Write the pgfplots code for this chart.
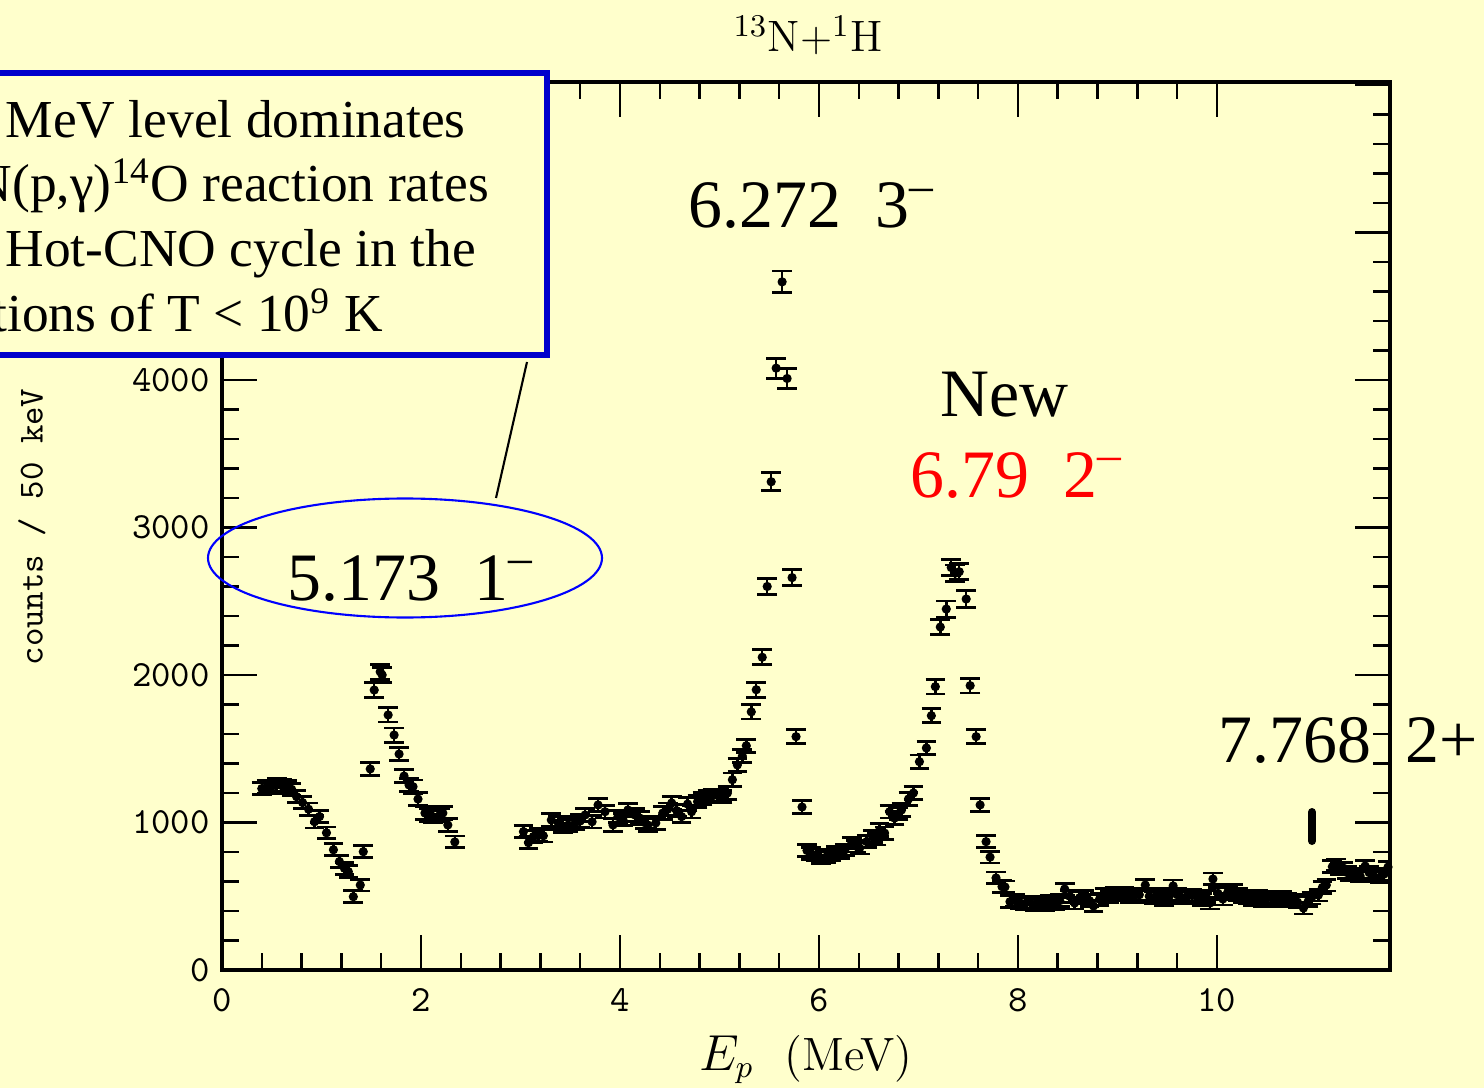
\documentclass[border=0pt]{standalone}
\usepackage{pgfplots}
\pgfplotsset{compat=1.18}
\usepackage{pgfplotstable}
\usepackage{fontspec}
\newfontfamily\tnr{Liberation Serif}
\definecolor{bgyellow}{RGB}{255,255,204}
\definecolor{boxblue}{RGB}{0,0,204}

\pgfplotstableread{
x y e
0.40 1230 42
0.45 1240 42
0.50 1245 42
0.55 1255 42
0.60 1250 42
0.65 1240 42
0.70 1225 42
0.75 1175 42
0.81 1135 42
0.87 1090 42
0.93 1005 42
0.98 1040 42
1.05 930 40
1.12 815 40
1.18 735 40
1.23 690 40
1.27 667 40
1.32 497 40
1.39 576 40
1.42 802 40
1.49 1363 45
1.53 1898 50
1.59 2022 50
1.61 2000 50
1.67 1729 48
1.73 1593 48
1.78 1464 45
1.83 1315 45
1.88 1254 45
1.92 1243 45
1.97 1159 45
2.04 1064 42
2.08 1050 42
2.12 1040 42
2.19 1051 42
2.22 1064 42
2.27 983 42
2.34 868 40
3.03 938 42
3.08 863 40
3.13 905 42
3.18 915 42
3.23 910 42
3.31 1017 42
3.38 997 42
3.43 975 42
3.48 983 42
3.55 997 42
3.60 1010 42
3.65 1051 42
3.72 1005 42
3.78 1119 42
3.85 1073 42
3.93 983 42
3.98 1040 42
4.03 1020 42
4.08 1085 42
4.15 1051 42
4.20 1030 42
4.25 999 42
4.28 983 42
4.36 997 42
4.43 1064 42
4.48 1090 42
4.52 1132 42
4.57 1080 42
4.62 1040 42
4.68 1125 42
4.72 1073 42
4.78 1141 42
4.83 1160 42
4.88 1175 42
4.93 1180 42
4.98 1185 42
5.03 1175 42
5.08 1200 42
5.13 1290 45
5.18 1390 45
5.23 1450 45
5.27 1520 45
5.32 1750 48
5.37 1900 50
5.43 2120 50
5.48 2600 55
5.52 3310 60
5.57 4080 68
5.63 4665 74
5.68 4010 68
5.73 2660 55
5.77 1582 48
5.83 1105 45
5.88 810 40
5.92 790 40
5.97 780 40
6.02 760 40
6.07 765 40
6.12 780 40
6.17 800 40
6.21 795 40
6.26 814 40
6.33 861 40
6.37 840 40
6.41 827 40
6.48 870 40
6.54 904 42
6.58 890 42
6.61 949 42
6.66 928 42
6.71 1073 42
6.76 1030 42
6.80 1060 42
6.83 1085 42
6.90 1159 45
6.95 1200 45
7.01 1412 45
7.08 1505 45
7.13 1724 48
7.17 1921 50
7.22 2325 52
7.28 2447 55
7.33 2728 55
7.37 2690 55
7.41 2700 55
7.48 2515 55
7.52 1928 50
7.58 1582 48
7.62 1119 45
7.68 870 40
7.72 765 40
7.78 624 40
7.84 565 40
7.87 563 40
7.92 463 40
7.97 470 40
8.02 455 40
8.07 450 40
8.12 460 40
8.17 445 40
8.22 455 40
8.27 440 40
8.32 465 40
8.37 450 40
8.42 470 40
8.47 549 40
8.52 500 40
8.57 454 40
8.62 490 40
8.67 500 40
8.72 470 40
8.76 434 40
8.82 480 40
8.87 510 40
8.92 500 40
8.97 520 40
9.02 510 40
9.07 520 40
9.12 500 40
9.17 505 40
9.22 510 40
9.28 576 40
9.32 500 40
9.37 490 40
9.42 510 40
9.47 480 40
9.52 500 40
9.56 570 40
9.60 510 40
9.65 490 40
9.70 500 40
9.75 505 40
9.80 495 40
9.85 480 40
9.89 500 40
9.93 454 40
9.96 617 40
10.01 520 40
10.06 481 40
10.11 530 40
10.16 542 40
10.21 510 40
10.26 500 40
10.31 490 40
10.36 480 40
10.41 500 40
10.46 470 40
10.51 490 40
10.56 485 40
10.61 470 40
10.66 490 40
10.71 480 40
10.76 470 40
10.81 460 40
10.87 420 40
10.92 470 40
10.95 488 40
11.02 508 40
11.06 560 40
11.10 576 40
11.16 700 40
11.20 712 40
11.24 690 40
11.27 691 40
11.31 660 40
11.34 644 40
11.39 650 40
11.44 637 40
11.49 705 40
11.53 660 40
11.57 644 40
11.64 630 40
11.68 650 40
11.72 698 40
}\spectrum

\begin{document}
\begin{tikzpicture}
\useasboundingbox (-22.2mm,-11.8mm) rectangle (126.2mm,97mm);
\fill[bgyellow] (-22.2mm,-11.8mm) rectangle (126.2mm,97mm);
\begin{axis}[
  at={(0,0)}, anchor=south west,
  scale only axis, width=116.8mm, height=88.8mm,
  xmin=0, xmax=11.74, ymin=0, ymax=6020,
  xtick={0,2,...,10}, ytick={0,1000,...,6000},
  minor x tick num=4, minor y tick num=4,
  tick align=inside, major tick length=3.5mm, minor tick length=1.7mm,
  axis line style={line width=0.9pt},
  every tick/.style={line width=0.7pt, black},
  tick label style={font=\fontsize{10.5}{12}\selectfont\ttfamily},
  /pgf/number format/assume math mode=true,
  /pgf/number format/1000 sep={},
  xticklabel style={yshift=-0.6mm},
]
\addplot[only marks, mark=*, mark size=1.1pt, black,
  error bars/.cd, y dir=both, y explicit,
  error bar style={line width=0.7pt, black},
  error mark options={rotate=90, line width=0.8pt, mark size=2.8pt, black}]
  table[x=x, y=y, y error=e] {\spectrum};
\end{axis}
% title and axis labels
\node[anchor=base, font=\fontsize{12.5}{14}\selectfont] at (58.6mm,91.8mm) {$^{13}\mathrm{N}{+}^{1}\mathrm{H}$};
\node[anchor=base, font=\fontsize{13.3}{15}\selectfont] at (58.4mm,-10.0mm) {$E_{p}$\ \ (MeV)};
\node[rotate=90, font=\fontsize{10}{12}\selectfont\ttfamily] at (-19.0mm,44.3mm) {counts / 50 keV};
% annotations
\begin{scope}[font=\tnr\fontsize{19.3}{22}\selectfont]
\node[anchor=base west, inner sep=0pt] at (46.6mm,74.2mm) {6.272\ \ 3\textsuperscript{\textendash}};
\node[anchor=base west, inner sep=0pt] at (71.8mm,55.3mm) {New};
\node[anchor=base west, inner sep=0pt, text=red] at (68.8mm,47.3mm) {6.79\ \ 2\textsuperscript{\textendash}};
\node[anchor=base west, inner sep=0pt] at (6.5mm,37.0mm) {5.173\ \ 1\textsuperscript{\textendash}};
\node[anchor=base west, inner sep=0pt] at (99.6mm,20.8mm) {7.768\ \ 2+};
\end{scope}
\draw[line width=0.8mm, line cap=round] (109.0mm,15.8mm) -- (109.0mm,12.9mm);
\draw[blue, line width=0.6pt] (18.3mm,41.2mm) ellipse [x radius=19.7mm, y radius=5.95mm];
\draw[line width=0.6pt] (27.4mm,47.2mm) -- (30.5mm,60.8mm);
\draw[boxblue, line width=0.6mm, fill=bgyellow] (-24mm,61.5mm) rectangle (32.5mm,89.7mm);
\begin{scope}[font=\tnr\fontsize{15.2}{18}\selectfont]
\node[anchor=base west, inner sep=0pt] at (-21.7mm,83.2mm) {MeV level dominates};
\node[anchor=base west, inner sep=0pt] at (-24.9mm,76.8mm) {N(p,γ)\textsuperscript{14}O reaction rates};
\node[anchor=base west, inner sep=0pt] at (-21.7mm,70.3mm) {Hot-CNO cycle in the};
\node[anchor=base west, inner sep=0pt] at (-25.4mm,63.8mm) {ctions of T < 10\textsuperscript{9} K};
\end{scope}
\end{tikzpicture}
\end{document}
